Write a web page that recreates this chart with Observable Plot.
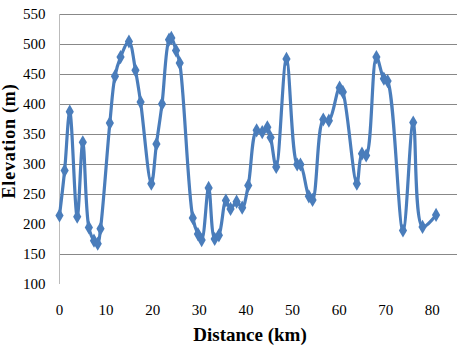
<!DOCTYPE html>
<html><head><meta charset="utf-8">
<script src="https://cdn.jsdelivr.net/npm/d3@7"></script>
<script src="https://cdn.jsdelivr.net/npm/@observablehq/plot@0.6"></script>
<style>body{margin:0;background:#fff} #chart{width:458px;height:346px}</style>
</head><body><div id="chart"></div>
<script>
const distance = [0, 1.1, 2.2, 3.8, 5.0, 6.3, 7.4, 8.2, 8.8, 10.8, 11.9, 13.1, 14.9, 16.3, 17.4, 19.7, 20.8, 22.0, 23.5, 24.0, 25.0, 25.8, 28.6, 29.7, 30.5, 32.0, 33.3, 34.2, 35.7, 36.7, 38.0, 39.2, 40.5, 42.3, 43.5, 44.6, 45.3, 46.5, 48.7, 51.0, 51.7, 53.5, 54.3, 56.6, 57.8, 60.1, 60.8, 63.8, 64.9, 65.8, 68.0, 69.6, 70.4, 73.7, 75.9, 77.9, 80.8];
const elevation = [215, 290, 388, 213, 337, 195, 173, 168, 193, 369, 447, 479, 505, 457, 404, 268, 334, 401, 508, 511, 490, 469, 211, 184, 174, 261, 176, 182, 240, 226, 238, 228, 265, 357, 354, 362, 345, 296, 476, 300, 300, 247, 241, 375, 373, 428, 421, 268, 318, 315, 479, 443, 439, 190, 370, 196, 216];
const xTicks = [0, 10, 20, 30, 40, 50, 60, 70, 80];
const yTicks = [100, 150, 200, 250, 300, 350, 400, 450, 500, 550];
const gridValues = [150, 250, 300, 350, 400, 450, 500, 550];
const xTitle = "Distance (km)";
const yTitle = "Elevation (m)";

const data = distance.map((d, i) => ({d, e: elevation[i]}));
const color = "#4a7dbb";
const plot = Plot.plot({
  width: 458, height: 346,
  marginLeft: 59, marginRight: 1, marginTop: 14, marginBottom: 62,
  style: {fontFamily: "'Times New Roman', 'Liberation Serif', serif", fontSize: "15px", color: "#000", background: "#fff", overflow: "visible"},
  x: {domain: [0, 85.4], ticks: xTicks, tickSize: 0, tickPadding: 20, label: null},
  y: {domain: [100, 550], ticks: yTicks, tickSize: 0, tickPadding: 14, label: null},
  marks: [
    Plot.ruleY(gridValues, {stroke: "#888", strokeWidth: 1}),
    Plot.ruleX([0], {stroke: "#bbb", strokeWidth: 1}),
    Plot.line(data, {x: "d", y: "e", curve: "catmull-rom", stroke: color, strokeWidth: 3.2}),
    Plot.dot(data, {x: "d", y: "e", symbol: "diamond", r: 4.3, fill: color, stroke: "none"})
  ]
});
const svg = d3.select(plot);
svg.append("text").attr("x", 250).attr("y", 341).attr("text-anchor", "middle")
  .attr("font-weight", "bold").attr("font-size", 19)
  .attr("fill", "#000").text(xTitle);
svg.append("text").attr("transform", "translate(15,141) rotate(-90)").attr("text-anchor", "middle")
  .attr("font-weight", "bold").attr("font-size", 18).attr("letter-spacing", 0.8)
  .attr("fill", "#000").text(yTitle);
document.getElementById("chart").appendChild(plot);
</script></body></html>
